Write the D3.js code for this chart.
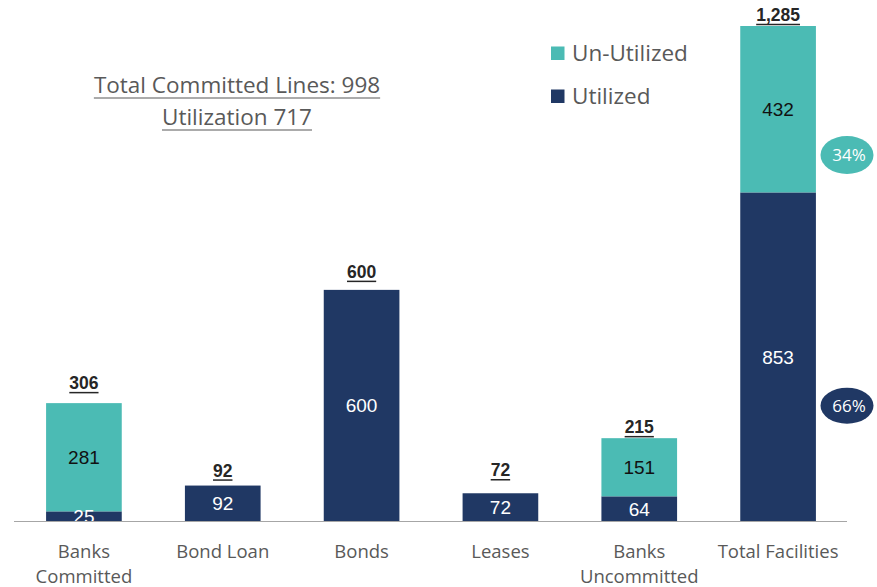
<!DOCTYPE html>
<html>
<head>
<meta charset="utf-8">
<script src="https://cdn.jsdelivr.net/npm/d3@7"></script>
<style>
  html, body { margin: 0; padding: 0; background: #fff; }
  svg { display: block; }
</style>
</head>
<body>
<svg id="chart" width="877" height="587"></svg>
<script>
// Facility categories and their utilized / un-utilized amounts
const categories = [["Banks", "Committed"], ["Bond Loan"], ["Bonds"], ["Leases"], ["Banks", "Uncommitted"], ["Total Facilities"]];
const utilized   = [25, 92, 600, 72, 64, 853];
const unutilized = [281, 0, 0, 0, 151, 432];
const totals     = ["306", "92", "600", "72", "215", "1,285"];
const shareLabels = [{ key: "unutilized", text: "34%" }, { key: "utilized", text: "66%" }];
const headline = ["Total Committed Lines: 998", "Utilization 717"];
const seriesNames = ["Un-Utilized", "Utilized"];

const colors = { utilized: "#203864", unutilized: "#4BBBB4" };
const uiFont = "'Open Sans', Lato, sans-serif";
const numFont = "'Liberation Sans', Arial, sans-serif";
const svg = d3.select("#chart");

const baseY = 521;
const x = d3.scaleBand().domain(d3.range(categories.length)).range([14.5, 847.5]).paddingInner(0.455).paddingOuter(0.2275);
const y = d3.scaleLinear().domain([0, 1285]).range([baseY, 26]);

const rows = categories.map((c, i) => ({ i, utilized: utilized[i], unutilized: unutilized[i] }));
const stack = d3.stack().keys(["utilized", "unutilized"]);
const layers = stack(rows);

svg.append("defs").append("clipPath").attr("id", "plot")
  .append("rect").attr("x", 0).attr("y", 0).attr("width", 877).attr("height", baseY);

// Stacked bars
const g = svg.append("g");
layers.forEach(layer => {
  g.selectAll(null).data(layer.filter(d => d[1] - d[0] > 0)).enter().append("rect")
    .attr("x", d => x(d.data.i))
    .attr("width", x.bandwidth())
    .attr("y", d => y(d[1]))
    .attr("height", d => y(d[0]) - y(d[1]))
    .attr("fill", colors[layer.key]);
});

// Segment value labels (clipped at the baseline)
const labG = svg.append("g").attr("clip-path", "url(#plot)");
layers.forEach(layer => {
  labG.selectAll(null).data(layer.filter(d => d[1] - d[0] > 0)).enter().append("text")
    .attr("x", d => x(d.data.i) + x.bandwidth() / 2)
    .attr("y", d => (y(d[0]) + y(d[1])) / 2)
    .attr("dy", "0.36em")
    .attr("text-anchor", "middle")
    .attr("font-family", numFont)
    .attr("font-size", 19)
    .attr("fill", layer.key === "utilized" ? "#ffffff" : "#111111")
    .text(d => d[1] - d[0]);
});

// Totals above bars, underlined; each callout sits at its own height above its bar
const totalLift = [14, 9, 12, 17, 5, 5];
const totG = svg.append("g");
rows.forEach((r, i) => {
  const top = y(r.utilized + r.unutilized);
  const cx = x(i) + x.bandwidth() / 2;
  const base = top - totalLift[i];
  const t = totG.append("text")
    .attr("x", cx)
    .attr("y", base)
    .attr("text-anchor", "middle")
    .attr("font-family", numFont)
    .attr("font-size", 17.5)
    .attr("font-weight", "bold")
    .attr("fill", "#262626")
    .text(totals[i]);
  const w = t.node().getComputedTextLength();
  totG.append("line")
    .attr("x1", cx - w / 2).attr("x2", cx + w / 2)
    .attr("y1", base + 3.5).attr("y2", base + 3.5)
    .attr("stroke", "#262626").attr("stroke-width", 1.5);
});

// Baseline axis
svg.append("line").attr("x1", 14).attr("x2", 847).attr("y1", baseY + 0.5).attr("y2", baseY + 0.5)
  .attr("stroke", "#a6a6a6").attr("stroke-width", 1.2);

// Category labels
categories.forEach((lines, i) => {
  const cx = x(i) + x.bandwidth() / 2;
  const t = svg.append("text")
    .attr("x", cx)
    .attr("y", 558)
    .attr("text-anchor", "middle")
    .attr("font-family", uiFont)
    .attr("font-size", 18.5)
    .attr("fill", "#595959");
  lines.forEach((l, k) => t.append("tspan").attr("x", cx).attr("dy", k === 0 ? 0 : 25).text(l));
});

// Share ellipses next to the total bar
const last = rows.length - 1;
const lastLayers = { utilized: layers[0][last], unutilized: layers[1][last] };
shareLabels.forEach((s) => {
  const d = lastLayers[s.key];
  const cy = s.key === "unutilized" ? y(d[1]) + (y(d[0]) - y(d[1])) * 0.775 : (y(d[0]) + y(d[1])) / 2 + 49;
  svg.append("ellipse").attr("cx", 847).attr("cy", cy).attr("rx", 26.5).attr("ry", s.key === "unutilized" ? 19 : 18)
    .attr("fill", colors[s.key]);
  svg.append("text").attr("x", 849).attr("y", cy).attr("dy", "0.36em")
    .attr("text-anchor", "middle")
    .attr("font-family", uiFont)
    .attr("font-size", 17)
    .attr("fill", "#ffffff")
    .text(s.text);
});

// Legend
const legendKeys = ["unutilized", "utilized"];
seriesNames.forEach((name, k) => {
  const ly = 53 + k * 43;
  svg.append("rect").attr("x", 551).attr("y", ly - 6.5).attr("width", 13.5).attr("height", 13.5)
    .attr("fill", colors[legendKeys[k]]);
  svg.append("text").attr("x", 572).attr("y", ly + 7.5)
    .attr("font-family", uiFont)
    .attr("font-size", 22.5)
    .attr("fill", "#595959")
    .text(name);
});

// Headline summary, underlined
headline.forEach((line, k) => {
  const ty = 93 + k * 32;
  const t = svg.append("text").attr("x", 237).attr("y", ty)
    .attr("text-anchor", "middle")
    .attr("font-family", uiFont)
    .attr("font-size", 22.5)
    .attr("fill", "#595959")
    .text(line);
  const w = t.node().getComputedTextLength();
  svg.append("line").attr("x1", 237 - w / 2).attr("x2", 237 + w / 2)
    .attr("y1", ty + 5).attr("y2", ty + 5)
    .attr("stroke", "#595959").attr("stroke-width", 1.2);
});
</script>
</body>
</html>
